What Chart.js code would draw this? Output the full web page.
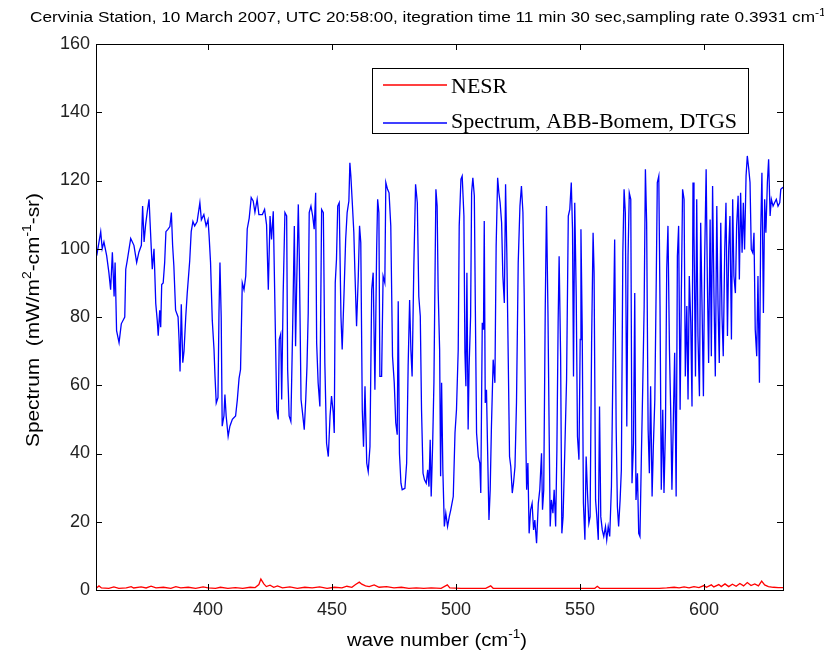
<!DOCTYPE html>
<html>
<head>
<meta charset="utf-8">
<script src="https://cdn.jsdelivr.net/npm/chart.js@4.4.1/dist/chart.umd.min.js"></script>
<style>
  html, body { margin: 0; padding: 0; background: #fff; }
  #wrap { width: 824px; height: 655px; }
</style>
</head>
<body>
<div id="wrap"><canvas id="spectrumChart" width="824" height="655"></canvas></div>
<script>
const titleText = "Cervinia Station, 10 March 2007, UTC 20:58:00, itegration time 11 min 30 sec,sampling rate 0.3931 cm";
const seriesNames = ["NESR", "Spectrum, ABB-Bomem, DTGS"];
const xTicks = [400, 450, 500, 550, 600];
const yTicks = [0, 20, 40, 60, 80, 100, 120, 140, 160];

// spectrum, wave number (cm-1) and radiance
const specWn = [
  355.1,356.7,357.3,358.0,359.1,360.0,360.7,361.4,362.1,362.5,
  363.1,364.1,365.0,366.4,366.8,367.4,368.8,370.1,371.2,372.1,
  373.1,373.6,374.2,374.8,375.5,376.2,376.6,377.1,377.5,378.2,
  378.9,379.5,379.9,380.5,380.9,381.3,381.9,382.5,383.0,383.8,
  384.6,385.2,385.7,386.2,386.9,387.9,388.3,388.7,389.2,389.8,
  390.3,391.0,391.6,392.6,393.2,393.9,394.6,395.6,396.7,397.3,
  398.3,399.2,400.0,400.4,401.0,401.7,402.4,402.8,403.3,404.0,
  404.4,404.8,405.3,405.7,406.4,406.8,407.3,408.1,408.8,409.8,
  411.1,411.8,412.5,413.1,413.8,414.5,415.2,415.8,416.6,417.4,
  418.2,418.9,419.8,420.5,421.9,422.8,423.6,424.3,425.0,425.6,
  426.3,427.0,427.7,428.3,428.7,429.3,429.7,430.3,431.0,431.7,
  432.1,432.7,433.4,434.1,434.8,435.3,435.7,436.4,436.8,437.5,
  438.1,438.8,439.4,439.9,440.4,440.8,441.5,442.2,442.8,443.4,
  443.8,444.4,445.1,445.8,446.5,447.1,447.8,448.5,449.2,449.8,
  450.5,450.9,451.3,451.8,452.3,452.9,453.6,454.1,454.8,455.5,
  456.1,456.8,457.2,457.6,458.1,458.8,459.2,459.9,460.6,461.1,
  461.6,462.2,462.7,463.3,464.0,464.6,465.3,466.0,466.6,467.3,
  468.0,468.4,468.9,469.3,470.0,470.6,471.3,471.7,472.4,473.0,
  473.7,474.4,475.1,475.7,476.3,476.7,477.2,477.8,478.3,479.4,
  480.1,480.7,481.3,481.8,482.3,483.0,483.7,484.4,485.0,485.6,
  486.1,486.7,487.3,488.0,488.6,489.1,489.6,490.0,490.6,491.1,
  491.9,492.4,492.8,493.4,493.8,494.2,494.7,495.3,495.9,496.6,
  497.3,497.9,498.9,499.6,500.2,500.9,501.3,502.0,502.5,503.2,
  503.6,504.0,504.4,504.9,505.3,505.9,506.3,506.8,507.4,507.8,
  508.3,509.0,509.6,510.0,510.6,511.1,511.4,511.8,512.3,512.7,
  513.3,513.8,514.3,515.0,515.7,516.2,516.8,517.3,517.8,518.4,
  518.9,519.5,520.0,520.5,521.1,521.6,522.1,522.7,523.2,523.8,
  524.4,525.1,525.8,526.4,527.0,527.5,528.1,528.5,529.0,529.5,
  530.1,530.7,531.3,531.8,532.5,533.2,533.8,534.5,534.9,535.4,
  536.0,536.5,537.1,537.6,538.0,538.5,539.1,539.6,540.2,540.7,
  541.2,541.6,542.2,542.7,543.2,543.9,544.6,545.3,545.9,546.5,
  547.0,547.4,547.9,548.5,549.0,549.6,550.1,550.4,550.9,551.4,
  552.0,552.5,553.1,553.6,554.1,554.7,555.3,555.7,556.3,556.8,
  557.4,557.9,558.4,559.0,559.6,560.3,560.8,561.4,562.0,562.7,
  563.4,564.0,564.6,565.1,565.6,566.2,566.7,567.3,567.8,568.3,
  568.9,569.4,569.9,570.5,571.0,571.6,572.1,572.6,573.2,573.7,
  574.2,574.8,575.3,575.9,576.4,576.9,577.5,578.0,578.5,579.1,
  579.6,580.2,580.8,581.2,581.8,582.3,582.8,583.4,583.9,584.5,
  585.0,585.5,586.1,586.6,587.1,587.7,588.2,588.8,589.3,589.8,
  590.4,590.9,591.4,592.0,592.5,593.1,593.6,594.1,594.7,595.2,
  595.6,596.0,596.6,597.1,597.6,598.2,598.7,599.2,599.8,600.3,
  600.9,601.4,601.9,602.5,603.0,603.5,604.1,604.6,605.2,605.7,
  606.2,606.8,607.3,607.8,608.4,608.9,609.5,610.0,610.5,611.1,
  611.6,612.1,612.7,613.2,613.8,614.3,614.8,615.4,615.9,616.4,
  617.0,617.5,618.1,618.6,619.1,619.7,620.2,620.7,621.3,621.8,
  622.4,622.9,623.4,624.0,624.5,625.0,625.6,626.1,626.7,627.2,
  627.9,628.5,629.2,629.9,630.6,631.0,631.9
];
const specVal = [
  98,105,100,102,98,93,88,99,86,96,
  76,72.5,78,80,94,96.5,103,101,96,99,
  101,112.5,102,107,111,114.5,108,100,94,100,
  84,79,74.5,82,77,89.5,90,96,105,105.7,
  106.5,110.6,101,95,82,80,73.4,64,83.7,66.6,
  70,80,87,96.5,105,108,106.7,108,113.5,108.5,
  110,106.7,108.5,104,96,79,70.5,62.6,54.8,56.4,
  81,96,80,48,51,57.3,51,45,48,50,
  51,55.7,62,64.6,90,88,92,105.8,109,115,
  114,110.7,114.5,110,110,111.5,107,88,109.6,102.7,
  111,82,52.8,50,73.4,75,55.8,87,110.6,109.6,
  64.6,51,49.4,76,106.7,71.4,88,113,97.8,55.8,
  51.9,47,55.8,65.6,81.2,110.6,112.5,109.6,105.7,116.4,
  72.4,60.7,53.8,111.5,110.6,66.5,43,39.1,51,56.8,
  51.9,46,90,96.9,112.5,113.5,80.2,70.5,86,102.7,
  110.6,114,125.2,121.3,114.5,104.7,94,77.3,92,106.7,
  101.8,52.8,42,59.7,37.2,34.7,42,88,93,58.7,
  99.8,114.5,110.6,62.6,62.6,92,90,119.4,117.4,116.4,
  106.7,68.5,60.7,49,45.5,84.6,40,31.3,29.4,29.8,
  37.2,65.6,85,70.5,62.6,95,118.9,113.5,86,80.2,
  52.8,34.2,32.3,31.3,35.2,30.3,44,27.4,43,60.7,
  117.4,112.5,88,70.5,33.3,60.7,35.2,18.6,22.5,18.6,
  21.5,23.5,27.4,46,52.8,70.5,106.7,120.4,121.3,109.6,
  69.5,59.7,93,47,65.6,80.2,116.4,120.8,115.5,83.2,
  46,39.1,37.2,28.4,78.3,76.3,108.1,54.8,58.7,43,
  20.5,29.4,48,67.5,60.7,100.8,120.8,116.4,113.5,107.6,
  92,84.1,118.9,98.8,66.5,39.1,36.2,28.4,31.3,36.2,
  54.8,95.9,112.5,118.4,110.6,87,47,29.4,37.2,16.6,
  23.5,25.4,17.6,20.5,13.7,25.4,29.4,40.1,23.5,29.4,
  82.2,112.5,81.2,45,18.6,26.4,22.5,29.4,18.6,41.1,
  78.3,97.8,68.5,16.6,21.5,41.1,61.6,109.6,111.5,119.4,
  105.7,62.6,113.5,86,45,38.2,73.4,105.7,77.3,25.4,
  14.7,39.1,27.4,19.6,21.5,72.4,104.7,93,26.4,21.5,
  14.7,53.8,21.5,17.6,15.7,18.6,14.7,18.6,15.7,30.3,
  71.4,102.7,47.9,24.5,18.6,26.4,35.2,98.8,117.4,110.6,
  47.9,97.8,116.4,114.5,31.3,43,87,26.4,34.2,16.6,
  15.7,40.1,58.7,83.2,123.3,107.6,47,34.2,59.7,27.4,
  42,55.8,92,119.4,121.3,83.2,29.4,52.8,28.4,48,
  94,106.7,70.5,52.8,29.4,51,69.5,27.4,97.8,106.7,
  52.8,87,117.4,114.5,62.6,83.2,55.8,92,78.3,53.8,
  119.4,104.7,62.6,114.5,74.4,56.8,107.6,85.1,56.8,96.9,
  123.3,90,66.5,108.6,68.5,118.4,84.1,62.6,112.5,83.2,
  66.5,107.6,80.2,68.5,99.8,113.5,74.4,99.8,109.6,73.4,
  114.5,92,87,106.7,115.5,91,116.4,98.8,113.5,99.8,
  121.3,127.2,123.3,119.4,99.8,98.8,104.7,76.3,68.5,92,
  60.7,104.7,122.3,81.2,114.5,104.7,119.4,126.2,109.6,114.5,
  112.5,113.5,114.5,112.5,113.5,117.4,118
];

// noise equivalent spectral radiance
const nesrWn = [
  355,356,357,360,362,364,367,369,370,373,
  375,377,379,382,385,387,389,392,395,398,
  400,403,405,408,411,414,417,419,420.5,421.3,
  422.5,423.5,425,426.5,428,430,433,436,439,442,
  445,448,451,454,456,458,459.5,461,462,463.5,
  465,467,469,472,475,478,481,484,487,490,
  494,496.5,497.5,502,508,512,514,515,520,530,
  540,550,556,557,558,565,575,582,585,588,
  590,592,594,596,598,600,601,603,604,606,
  607,608.5,610,611.5,613,614.5,616,617.5,619,620.5,
  622,623.3,624.5,626,628,630,632
];
const nesrVal = [
  0.6,1.2,0.6,0.5,0.9,0.5,0.6,1.0,0.6,0.9,
  0.6,1.1,0.6,0.8,0.5,1.0,0.6,0.8,0.5,0.9,
  0.6,0.5,0.8,0.5,0.7,0.5,0.8,0.7,1.6,3.2,
  1.8,1.0,1.4,0.8,1.2,0.6,0.9,0.5,0.8,0.6,
  0.9,0.5,0.8,0.6,1.1,0.8,1.6,2.3,1.7,1.2,
  1.0,1.5,0.8,1.0,0.6,0.8,0.5,0.6,0.5,0.6,
  0.5,1.5,0.6,0.5,0.5,0.5,1.2,0.5,0.5,0.5,
  0.5,0.5,0.5,1.1,0.5,0.5,0.5,0.5,0.6,0.8,
  0.6,0.9,0.6,1.0,0.7,1.3,0.8,1.5,0.9,1.6,
  1.0,1.8,1.0,1.7,1.1,1.9,1.2,2.2,1.3,1.8,
  1.2,2.6,1.5,1.0,0.8,0.7,0.7
];

const SANS = '"Liberation Sans", Arial, sans-serif';
const SERIF = '"Liberation Serif", "Times New Roman", serif';
const toPoints = (xs, ys) => xs.map((x, i) => ({ x: x, y: ys[i] }));

// text with superscript pieces, parts = [[text, isSup], ...]
function richWidth(ctx, parts, size) {
  let w = 0;
  for (const [t, sup] of parts) {
    ctx.font = (sup ? Math.round(size * 0.68) : size) + "px " + SANS;
    w += ctx.measureText(t).width;
  }
  return w;
}
function drawRich(ctx, parts, x, y, size) {
  for (const [t, sup] of parts) {
    ctx.font = (sup ? Math.round(size * 0.68) : size) + "px " + SANS;
    ctx.fillText(t, x, sup ? y - size * 0.42 : y);
    x += ctx.measureText(t).width;
  }
}
// centred, stretched to a given width
function drawRichFit(ctx, parts, cx, y, size, width) {
  const w = richWidth(ctx, parts, size);
  ctx.save();
  ctx.translate(cx - width / 2, y);
  ctx.scale(width / w, 1);
  drawRich(ctx, parts, 0, 0, size);
  ctx.restore();
}

const matlabFrame = {
  id: "matlabFrame",
  afterDatasetsDraw(chart) {
    const ctx = chart.ctx;
    const a = chart.chartArea;
    const xs = chart.scales.x, ys = chart.scales.y;
    ctx.save();
    ctx.strokeStyle = "#000";
    ctx.lineWidth = 1;
    ctx.strokeRect(Math.round(a.left) + 0.5, Math.round(a.top) + 0.5,
      Math.round(a.right - a.left), Math.round(a.bottom - a.top));
    const tl = 6;
    ctx.beginPath();
    xTicks.forEach(v => {
      const px = Math.round(xs.getPixelForValue(v)) + 0.5;
      ctx.moveTo(px, a.bottom); ctx.lineTo(px, a.bottom - tl);
      ctx.moveTo(px, a.top); ctx.lineTo(px, a.top + tl);
    });
    yTicks.forEach(v => {
      const py = Math.round(ys.getPixelForValue(v)) + 0.5;
      ctx.moveTo(a.left, py); ctx.lineTo(a.left + tl, py);
      ctx.moveTo(a.right, py); ctx.lineTo(a.right - tl, py);
    });
    ctx.stroke();

    // legend box, top right inside the axes
    const bx = 372.5, by = 68.5, bw = 376, bh = 65;
    ctx.fillStyle = "#fff";
    ctx.fillRect(bx, by, bw, bh);
    ctx.strokeStyle = "#000";
    ctx.strokeRect(bx, by, bw, bh);
    const colors = ["#ff0000", "#0000ff"];
    const rows = [85, 123];
    const baselines = [93, 128];
    ctx.font = "20px " + SERIF;
    const sx = 286 / ctx.measureText(seriesNames[1]).width;
    seriesNames.forEach((name, i) => {
      ctx.strokeStyle = colors[i];
      ctx.lineWidth = 1.3;
      ctx.beginPath();
      ctx.moveTo(383, rows[i]);
      ctx.lineTo(447, rows[i]);
      ctx.stroke();
      ctx.fillStyle = "#000";
      ctx.save();
      ctx.translate(451, baselines[i]);
      ctx.scale(sx, 1);
      ctx.fillText(name, 0, 0);
      ctx.restore();
    });
    ctx.restore();
  },
  afterDraw(chart) {
    const ctx = chart.ctx;
    ctx.save();
    ctx.fillStyle = "#000";
    ctx.textBaseline = "alphabetic";
    // title, runs off the right edge like the original
    ctx.font = "14px " + SANS;
    const tw = ctx.measureText(titleText).width;
    ctx.save();
    ctx.translate(30, 22);
    ctx.scale(785 / tw, 1);
    drawRich(ctx, [[titleText, false], ["-1", true]], 0, 0, 14);
    ctx.restore();

    // axis labels
    drawRichFit(ctx, [["wave number (cm", false], ["-1", true], [")", false]], 437, 646, 18, 180);
    ctx.save();
    ctx.translate(39, 320);
    ctx.rotate(-Math.PI / 2);
    drawRichFit(ctx, [["Spectrum  (mW/m", false], ["2", true], ["-cm", false], ["-1", true], ["-sr)", false]], 0, 0, 18, 254);
    ctx.restore();
    ctx.restore();
  }
};

new Chart(document.getElementById("spectrumChart"), {
  type: "scatter",
  data: {
    datasets: [
      {
        label: seriesNames[0],
        data: toPoints(nesrWn, nesrVal),
        showLine: true,
        borderColor: "#ff0000",
        borderWidth: 1.3,
        pointRadius: 0,
        tension: 0
      },
      {
        label: seriesNames[1],
        data: toPoints(specWn, specVal),
        showLine: true,
        borderColor: "#0000ff",
        borderWidth: 1.3,
        pointRadius: 0,
        tension: 0
      }
    ]
  },
  options: {
    responsive: false,
    animation: false,
    events: [],
    layout: { padding: { left: 0, right: 41, top: 44, bottom: 0 } },
    plugins: { legend: { display: false }, tooltip: { enabled: false }, title: { display: false } },
    scales: {
      x: {
        type: "linear",
        min: 354.8,
        max: 631.9,
        afterBuildTicks: s => { s.ticks = xTicks.map(v => ({ value: v })); },
        afterFit: s => { s.height = 65; },
        grid: { display: false, drawTicks: false },
        border: { display: false },
        ticks: { padding: 9, color: "#222", font: { family: SANS, size: 18 }, maxRotation: 0 }
      },
      y: {
        type: "linear",
        min: 0,
        max: 160,
        afterBuildTicks: s => { s.ticks = yTicks.map(v => ({ value: v })); },
        afterFit: s => { s.width = 96; },
        grid: { display: false, drawTicks: false },
        border: { display: false },
        ticks: { padding: 6, color: "#222", font: { family: SANS, size: 18 } }
      }
    }
  },
  plugins: [matlabFrame]
});
</script>
</body>
</html>
